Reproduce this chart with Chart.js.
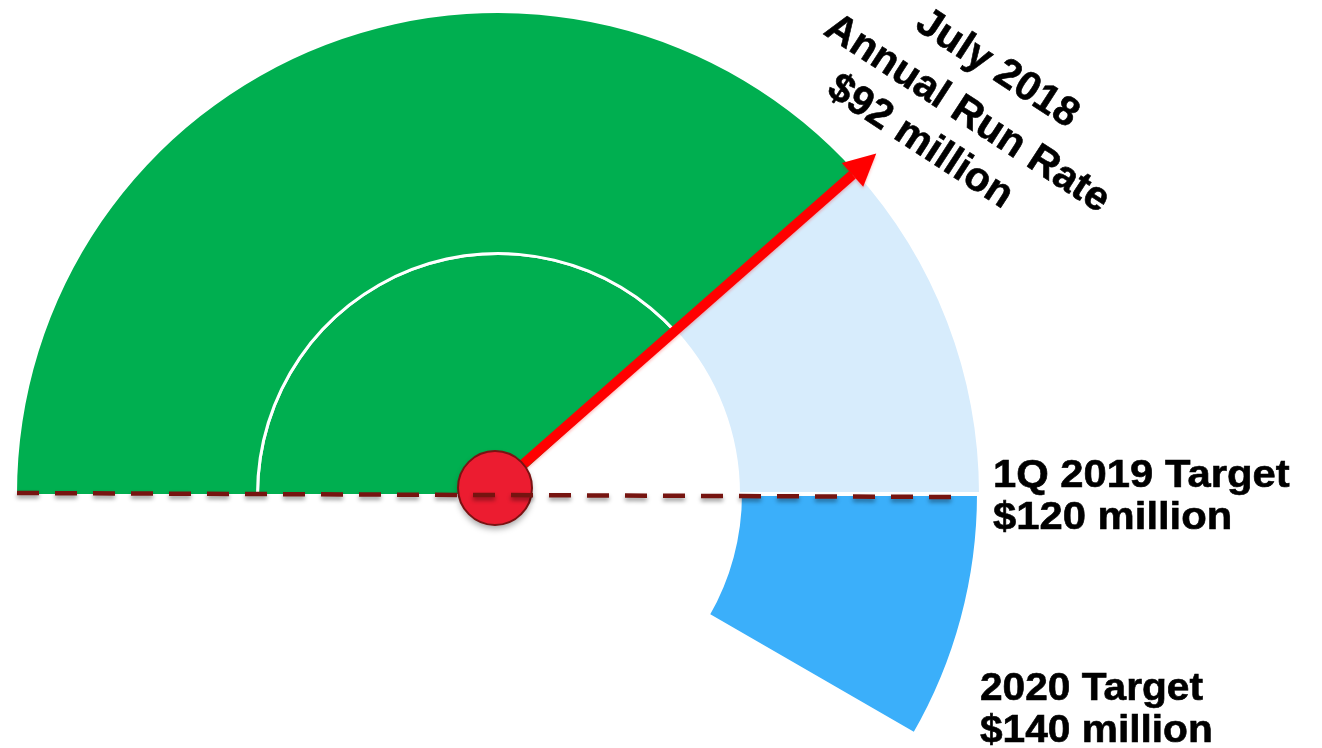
<!DOCTYPE html>
<html>
<head>
<meta charset="utf-8">
<title>Annual run rate gauge</title>
<script src="https://cdn.jsdelivr.net/npm/chart.js@4/dist/chart.umd.min.js"></script>
<style>
  html, body { margin: 0; padding: 0; background: #fff; }
  #wrap { width: 1322px; height: 748px; position: relative; }
</style>
</head>
<body>
<div id="wrap"><canvas id="gauge"></canvas></div>
<script>
// gauge segments, in $ million
const SEGMENTS = ["July 2018 run rate", "Up to 1Q 2019 target", "Up to 2020 target"];
const SEGMENT_VALUES = [92, 28, 20];
const RUN_RATE = 92;

const RING_COLORS = ["#00AF50", "#D7ECFC", "#3BAFFA"];
const DIVIDER_COLORS = ["#FFFFFF", "rgba(0,0,0,0)", "rgba(0,0,0,0)"];
const CORE_COLORS = ["#00AF50", "rgba(0,0,0,0)", "rgba(0,0,0,0)"];

const RUN_RATE_LABEL = ["July 2018", "Annual Run Rate", "$92 million"];
const TARGET_LABELS = [
  { lines: ["1Q 2019 Target", "$120 million"], x: 993, y: 487, sx: 1.1 },
  { lines: ["2020 Target", "$140 million"], x: 980, y: 700, sx: 1.07 },
];

const FONT = 'bold 38px "Liberation Sans", Arial, sans-serif';
const FONT_ROT = 'bold 41px "Liberation Sans", Arial, sans-serif';

const needlePlugin = {
  id: "needle",
  afterDatasetsDraw(chart) {
    const ctx = chart.ctx;
    const arc = chart.getDatasetMeta(0).data[0];
    const { x, y, outerRadius, startAngle, endAngle } = arc.getProps(
      ["x", "y", "outerRadius", "startAngle", "endAngle"], true);
    // angle of the run-rate value (end of the first segment)
    const a = startAngle + (endAngle - startAngle) * (RUN_RATE / SEGMENT_VALUES[0]);
    const len = outerRadius + 28;
    const tipX = x + len * Math.cos(a);
    const tipY = y + len * Math.sin(a);
    const headLen = 32, headHalf = 16;
    const baseX = x + (len - headLen) * Math.cos(a);
    const baseY = y + (len - headLen) * Math.sin(a);

    ctx.save();
    ctx.shadowColor = "rgba(255,0,0,0.25)";
    ctx.shadowBlur = 3;
    ctx.shadowOffsetY = 2;
    ctx.strokeStyle = "#FF0000";
    ctx.lineWidth = 10;
    ctx.beginPath();
    ctx.moveTo(x - 3, y - 5);
    ctx.lineTo(baseX, baseY);
    ctx.stroke();
    ctx.fillStyle = "#FF0000";
    ctx.beginPath();
    ctx.moveTo(tipX, tipY);
    ctx.lineTo(baseX - headHalf * Math.sin(a), baseY + headHalf * Math.cos(a));
    ctx.lineTo(baseX + headHalf * Math.sin(a), baseY - headHalf * Math.cos(a));
    ctx.closePath();
    ctx.fill();
    ctx.restore();

    // hub
    ctx.save();
    ctx.shadowColor = "rgba(0,0,0,0.35)";
    ctx.shadowBlur = 6;
    ctx.shadowOffsetY = 4;
    ctx.fillStyle = "#EC1C30";
    ctx.strokeStyle = "#7A1212";
    ctx.lineWidth = 2;
    ctx.beginPath();
    ctx.arc(x - 3, y - 6, 37, 0, Math.PI * 2);
    ctx.fill();
    ctx.shadowColor = "rgba(0,0,0,0)";
    ctx.stroke();
    ctx.restore();

    // dashed baseline
    ctx.save();
    ctx.shadowColor = "rgba(0,0,0,0.4)";
    ctx.shadowBlur = 4;
    ctx.shadowOffsetY = 3;
    ctx.strokeStyle = "#761410";
    ctx.lineWidth = 4.5;
    ctx.setLineDash([22, 16]);
    ctx.beginPath();
    ctx.moveTo(x - outerRadius, y - 1);
    ctx.lineTo(x + outerRadius - 27, y + 3);
    ctx.stroke();
    ctx.restore();
  },
};

const labelPlugin = {
  id: "labels",
  afterDraw(chart) {
    const ctx = chart.ctx;
    ctx.save();
    ctx.fillStyle = "#000";
    ctx.strokeStyle = "#000";
    ctx.lineWidth = 0.6;

    // rotated run-rate label
    ctx.font = FONT_ROT;
    const centers = [[997, 69], [967, 114], [920, 142]];
    RUN_RATE_LABEL.forEach((t, i) => {
      ctx.save();
      ctx.translate(centers[i][0], centers[i][1]);
      ctx.rotate(33 * Math.PI / 180);
      ctx.textAlign = "center";
      ctx.textBaseline = "middle";
      ctx.fillText(t, 0, 0);
      ctx.strokeText(t, 0, 0);
      ctx.restore();
    });

    ctx.font = FONT;
    for (const lbl of TARGET_LABELS) {
      lbl.lines.forEach((t, i) => {
        ctx.save();
        ctx.translate(lbl.x, lbl.y + i * 42);
        ctx.scale(lbl.sx, 1);
        ctx.textAlign = "left";
        ctx.textBaseline = "alphabetic";
        ctx.fillText(t, 0, 0);
        ctx.strokeText(t, 0, 0);
        ctx.restore();
      });
    }
    ctx.restore();
  },
};

new Chart(document.getElementById("gauge"), {
  type: "doughnut",
  data: {
    labels: SEGMENTS,
    datasets: [
      {
        data: SEGMENT_VALUES,
        backgroundColor: RING_COLORS,
        borderColor: "#FFFFFF",
        borderWidth: [0, 0, 4],
        weight: 239,
      },
      { data: SEGMENT_VALUES, backgroundColor: DIVIDER_COLORS, borderWidth: 0, weight: 3 },
      { data: SEGMENT_VALUES, backgroundColor: CORE_COLORS, borderWidth: 0, weight: 239 },
    ],
  },
  options: {
    responsive: true,
    maintainAspectRatio: false,
    animation: false,
    rotation: -90,
    circumference: 210,
    cutout: 0,
    layout: { padding: { left: 15, right: 341, top: 11, bottom: 11.5 } },
    plugins: {
      legend: { display: false },
      tooltip: { enabled: false },
    },
    events: [],
  },
  plugins: [needlePlugin, labelPlugin],
});
</script>
</body>
</html>
